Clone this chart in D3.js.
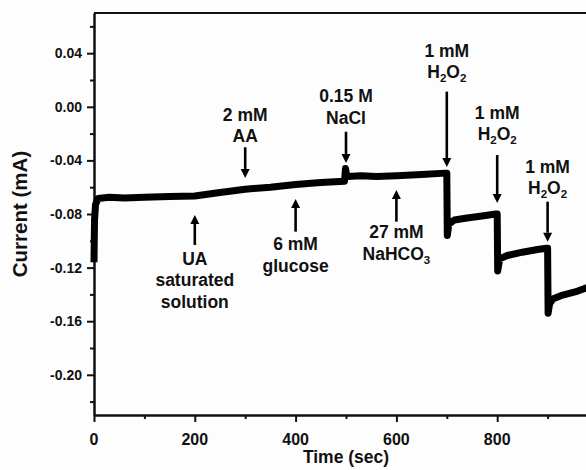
<!DOCTYPE html>
<html>
<head>
<meta charset="utf-8">
<script src="https://cdn.jsdelivr.net/npm/d3@7"></script>
<style>
  body { margin: 0; background: #fdfdfd; }
  svg { display: block; font-family: "Liberation Sans", Arial, sans-serif; font-weight: bold; }
</style>
</head>
<body>
<svg width="586" height="470"></svg>
<script>
// amperometric trace
var time = [0, 1, 3, 8, 30, 60, 100, 150, 200, 250, 300, 350, 400, 450, 497, 499, 501, 504, 530, 560, 600, 650, 697,
    700, 701, 704, 715, 740, 770, 797,
    800, 801, 805, 820, 850, 880, 898,
    900, 901, 904, 910, 930, 960, 985, 1000];
var current = [-0.116, -0.085, -0.073, -0.0685, -0.0675, -0.068, -0.0675, -0.067, -0.0665, -0.064, -0.0615, -0.060, -0.058, -0.0565, -0.0555, -0.046, -0.0505, -0.052, -0.0515, -0.052, -0.0515, -0.0505, -0.0495,
    -0.0495, -0.096, -0.0875, -0.0845, -0.083, -0.0815, -0.080,
    -0.080, -0.1225, -0.1135, -0.111, -0.1085, -0.1065, -0.1055,
    -0.1055, -0.154, -0.147, -0.1435, -0.1405, -0.1375, -0.134, -0.132];

var yTicks = [0.04, 0.00, -0.04, -0.08, -0.12, -0.16, -0.20];
var yMinor = [0.06, 0.02, -0.02, -0.06, -0.10, -0.14, -0.18, -0.22];
var xTicks = [0, 200, 400, 600, 800];
var xMinor = [100, 300, 500, 700, 900];

// additions: time, arrow tip / tail (mA), first label baseline (mA), label lines
var notes = [
    { t: 200, tip: -0.0807, tail: -0.1031, lab: -0.118, lines: ["UA", "saturated", "solution"] },
    { t: 300, tip: -0.0531, tail: -0.0302, lab: -0.0104, lines: ["2 mM", "AA"] },
    { t: 400, tip: -0.0688, tail: -0.0932, lab: -0.1069, lines: ["6 mM", "glucose"] },
    { t: 500, tip: -0.0419, tail: -0.0186, lab: 0.0034, lines: ["0.15 M", "NaCl"] },
    { t: 600, tip: -0.0621, tail: -0.0857, lab: -0.0981, lines: ["27 mM", "NaHCO|3"] },
    { t: 700, tip: -0.0449, tail: 0.0113, lab: 0.0374, lines: ["1 mM", "H|2|O|2"] },
    { t: 800, tip: -0.0718, tail: -0.036, lab: -0.0091, lines: ["1 mM", "H|2|O|2"] },
    { t: 900, tip: -0.1007, tail: -0.0708, lab: -0.0492, lines: ["1 mM", "H|2|O|2"] }
];

var svg = d3.select("svg");

var x = d3.scaleLinear().domain([0, 1000]).range([94, 598]);
var y = d3.scaleLinear().domain([-0.23, 0.07]).range([415, 13]);

// frame (top edge; right edge is off-page)
svg.append("line")
    .attr("x1", x(0)).attr("x2", x(1000))
    .attr("y1", y(0.07)).attr("y2", y(0.07))
    .attr("stroke", "#111").attr("stroke-width", 2);

function styleAxis(g) {
    g.selectAll("path").attr("stroke", "#111").attr("stroke-width", 2);
    g.selectAll("line").attr("stroke", "#111").attr("stroke-width", 2);
}

// minor ticks
svg.append("g").attr("transform", "translate(0," + y(-0.23) + ")")
    .call(d3.axisBottom(x).tickValues(xMinor).tickSize(4).tickSizeOuter(0).tickFormat(""))
    .call(styleAxis);
svg.append("g").attr("transform", "translate(" + x(0) + ",0)")
    .call(d3.axisLeft(y).tickValues(yMinor).tickSize(4).tickSizeOuter(0).tickFormat(""))
    .call(styleAxis);

// major ticks (labels drawn separately below)
svg.append("g").attr("transform", "translate(0," + y(-0.23) + ")")
    .call(d3.axisBottom(x).tickValues(xTicks).tickSize(7).tickSizeOuter(0).tickFormat(""))
    .call(styleAxis);
svg.append("g").attr("transform", "translate(" + x(0) + ",0)")
    .call(d3.axisLeft(y).tickValues(yTicks).tickSize(7).tickSizeOuter(0).tickFormat(""))
    .call(styleAxis);

svg.selectAll(".xlab")
    .data(xTicks)
    .enter().append("text")
    .attr("class", "xlab")
    .attr("x", function (d) { return x(d); })
    .attr("y", 445)
    .attr("text-anchor", "middle")
    .attr("font-size", 16)
    .attr("fill", "#111")
    .text(function (d) { return d; });

svg.selectAll(".ylab")
    .data(yTicks)
    .enter().append("text")
    .attr("class", "ylab")
    .attr("x", x(0) - 12)
    .attr("y", function (d) { return y(d) + 5; })
    .attr("text-anchor", "end")
    .attr("font-size", 14)
    .attr("fill", "#111")
    .text(function (d) { return d3.format(".2f")(d).replace("\u2212", "-"); });

// axis titles
svg.append("text")
    .attr("x", (x(0) + x(1000)) / 2).attr("y", 463)
    .attr("text-anchor", "middle").attr("font-size", 17.5).attr("fill", "#111")
    .text("Time (sec)");
svg.append("text")
    .attr("transform", "translate(27," + (y(0.07) + y(-0.23)) / 2 + ") rotate(-90)")
    .attr("text-anchor", "middle").attr("font-size", 20.5).attr("fill", "#111")
    .text("Current (mA)");

// trace
var pts = time.map(function (t, i) { return [t, current[i]]; });
svg.append("path")
    .datum(pts)
    .attr("fill", "none")
    .attr("stroke", "#000")
    .attr("stroke-width", 7)
    .attr("stroke-linejoin", "round")
    .attr("d", d3.line().x(function (d) { return x(d[0]); }).y(function (d) { return y(d[1]); }));

// arrows + labels
var head = 9;
notes.forEach(function (n) {
    var xp = x(n.t), y0 = y(n.tail), y1 = y(n.tip);
    var dir = y1 > y0 ? 1 : -1;
    svg.append("line")
        .attr("x1", xp).attr("x2", xp)
        .attr("y1", y0).attr("y2", y1 - dir * head)
        .attr("stroke", "#000").attr("stroke-width", 2.6);
    svg.append("path")
        .attr("d", "M" + (xp - 4.5) + "," + (y1 - dir * head) + "L" + (xp + 4.5) + "," + (y1 - dir * head) + "L" + xp + "," + y1 + "Z")
        .attr("fill", "#000");

    n.lines.forEach(function (s, i) {
        var txt = svg.append("text")
            .attr("x", xp).attr("y", y(n.lab) + i * 21.5)
            .attr("text-anchor", "middle").attr("font-size", 17.5).attr("fill", "#111");
        var parts = s.split("|");
        parts.forEach(function (p, k) {
            var sub = (k % 2 === 1);
            txt.append("tspan")
                .attr("font-size", sub ? 11.5 : null)
                .attr("dy", k === 0 ? null : (sub ? 4 : -4))
                .text(p);
        });
    });
});
</script>
</body>
</html>
